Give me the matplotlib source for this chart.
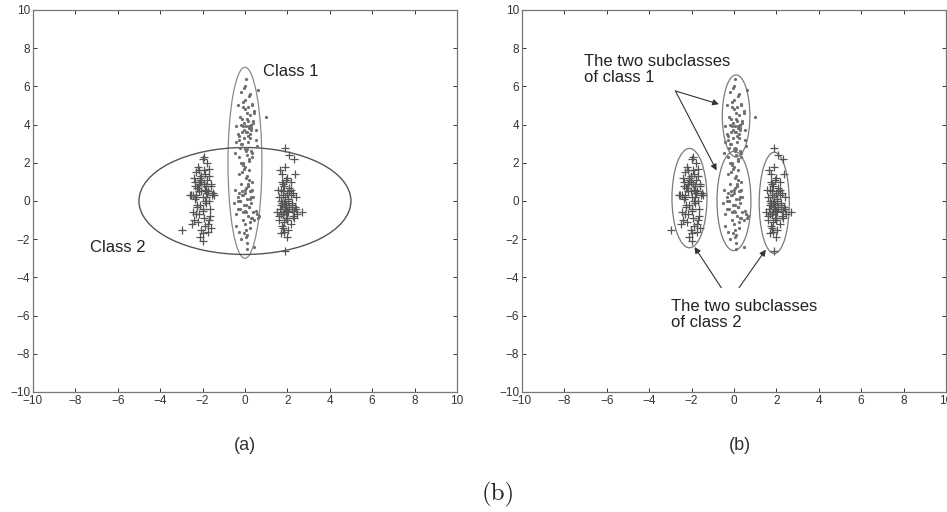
import matplotlib
matplotlib.use("Agg")
import matplotlib.pyplot as plt
from matplotlib.patches import Ellipse

# ---- data ----
ticks = [-10, -8, -6, -4, -2, 0, 2, 4, 6, 8, 10]

c2_left_x = [-2.10,-1.85,-2.30,-1.70,-2.05,-2.25,-1.60,-2.45,-1.95,-2.15,
             -1.80,-2.35,-2.00,-1.75,-2.20,-1.90,-2.55,-1.65,-2.10,-2.40,
             -1.85,-2.05,-1.55,-2.30,-1.95,-2.15,-1.70,-2.25,-2.00,-1.80,
             -2.50,-1.90,-2.10,-1.60,-2.35,-2.00,-1.75,-2.20,-1.45,-2.60,
             -1.95,-2.05,-1.85,-2.30,-2.15,-1.70,-2.00,-2.40,-1.90,-1.65,
             -2.25,-2.10,-1.80,-2.95,-1.50,-2.05,-1.95,-2.20,-1.75,-2.35,
             -2.00,-1.85,-2.15,-1.60,-2.45,-1.90,-2.10,-2.30,-1.70,-2.00]
c2_left_y = [1.10,0.80,0.30,1.30,0.50,-0.20,0.90,0.30,1.60,-0.70,
             0.40,1.00,2.20,-1.20,0.70,0.00,0.30,-0.40,1.20,-1.00,
             0.60,-1.50,0.30,1.50,-0.90,0.90,1.70,-0.30,0.20,2.00,
             -1.20,1.40,-1.90,0.80,0.10,-0.50,-1.60,1.80,0.30,0.30,
             0.90,1.00,-0.10,-0.70,0.50,0.00,-2.10,1.20,-1.30,-0.80,
             0.70,-0.20,1.10,-1.50,0.40,1.30,2.30,-1.10,0.50,0.80,
             -0.40,0.20,1.60,-1.40,-0.60,0.60,1.00,0.20,-1.00,-1.70]

c2_right_x = [1.90,2.10,1.70,2.20,1.80,2.00,1.60,2.30,1.95,1.75,
              2.15,1.85,2.40,1.65,2.05,1.90,2.25,1.70,1.50,2.10,
              1.80,2.00,2.35,1.60,1.95,2.20,1.75,1.85,2.05,2.70,
              1.55,2.15,1.90,2.30,1.70,2.00,1.80,2.45,1.65,2.10,
              1.95,1.85,2.25,1.75,2.00,1.60,2.20,1.90,2.05,1.80,
              2.35,1.70,2.15,1.95,1.85,2.00,1.75,2.10,1.90,2.30,
              1.80,2.40,1.70,2.05,1.95,1.85,2.15,1.75,2.00,1.90]
c2_right_y = [-0.30,0.50,-0.70,-0.10,0.90,-0.50,0.20,-0.90,-0.20,1.40,
              0.60,-1.10,0.20,-0.40,-0.60,1.80,-0.80,0.00,-0.60,2.40,
              -1.40,0.40,1.40,-1.00,-0.30,-0.20,1.00,-1.60,0.10,-0.60,
              0.60,-1.20,2.80,-0.50,-0.20,-1.90,0.30,-0.70,1.60,0.70,
              -0.90,-0.10,0.40,-1.30,1.20,-0.80,-0.40,-2.60,0.00,0.50,
              -0.30,-1.70,1.00,-0.50,0.80,-1.00,-0.10,-0.30,0.20,2.20,
              -0.70,-0.40,0.60,-1.50,1.10,-0.60,0.30,-0.20,-0.90,-0.10]

c1_upper_x = [0.05,-0.20,0.25,-0.10,0.35,0.00,-0.35,0.15,0.45,-0.25,
              0.10,-0.05,0.30,-0.40,0.20,0.50,-0.15,0.05,0.25,-0.30,
              0.40,-0.05,0.15,-0.20,0.55,0.00,0.30,-0.45,0.10,0.20,
              -0.10,0.35,0.05,-0.30,0.25,0.45,-0.20,0.10,-0.05,0.30,
              0.15,-0.35,0.20,0.00,0.40,-0.15,0.25,0.05,-0.25,0.35,
              0.10,-0.10,0.50,-0.05,0.20,0.30,-0.40,0.15,0.00,0.25,
              -0.15,0.35,0.05,-0.30,0.20,1.00,0.10,-0.10,0.30,0.60]
c1_upper_y = [6.40,5.70,5.60,5.20,5.00,4.80,5.00,4.90,4.60,4.40,
              4.30,4.10,4.00,3.90,3.80,3.70,3.60,3.90,3.50,3.40,
              4.20,3.30,3.10,3.00,2.90,2.70,2.60,2.50,2.40,2.20,
              2.00,2.30,2.80,3.20,4.50,4.70,4.00,3.60,3.70,3.80,
              4.20,3.50,3.90,5.30,4.10,3.00,3.30,2.60,2.80,2.50,
              4.60,4.90,3.20,5.90,5.50,4.00,3.10,3.40,6.00,3.80,
              4.30,5.10,3.60,2.30,2.10,4.40,2.70,3.90,3.70,5.80]

c1_lower_x = [-0.10,0.20,-0.30,0.05,0.35,-0.20,0.15,-0.45,0.25,0.00,
              -0.15,0.40,0.10,-0.35,0.30,-0.05,0.20,-0.25,0.50,0.05,
              -0.40,0.15,0.35,-0.10,0.00,0.25,-0.30,0.10,-0.20,0.45,
              0.05,-0.15,0.30,-0.50,0.20,0.00,-0.25,0.40,0.10,-0.05,
              0.25,-0.35,0.15,0.55,-0.10,0.05,0.30,-0.20,0.10,0.65,
              -0.30,0.20,0.00,-0.15,0.35,0.05,-0.40,0.25,-0.05,0.15,
              0.45,-0.25,0.10,0.30,-0.10,0.00,0.20,-0.35,0.60,0.05]
c1_lower_y = [1.90,1.60,1.40,1.20,1.00,0.90,0.80,0.60,0.50,0.40,
              0.30,0.20,0.10,0.00,-0.10,-0.20,-0.30,-0.40,-0.50,-0.60,
              -0.70,-0.80,-0.90,-1.00,-1.20,-1.40,-1.60,-1.80,-2.00,-2.40,
              0.70,0.50,0.20,-0.10,-0.30,0.60,0.00,-0.60,1.30,1.70,
              -1.10,-0.40,0.90,-0.70,0.30,-1.50,-0.90,2.00,-2.20,-0.80,
              0.40,1.10,-0.50,1.50,0.60,-0.20,-1.30,0.10,-1.70,0.80,
              -1.00,0.00,-2.50,0.50,-0.60,1.80,-0.30,0.20,-0.90,-1.90]

# ---- figure ----
plt.rcParams['font.family'] = ['Liberation Sans', 'DejaVu Sans']
fig = plt.figure(figsize=(9.47, 5.12), dpi=100)

axes_rects = [[0.0348, 0.2344, 0.4477, 0.7461],
              [0.5512, 0.2344, 0.4477, 0.7461]]

pt_col = '#555555'
line_col = '#555555'


def setup(ax):
    ax.set_xlim(-10, 10)
    ax.set_ylim(-10, 10)
    ax.set_xticks(ticks)
    ax.set_yticks(ticks)
    ax.tick_params(direction='in', length=3, width=0.7, top=True, right=True,
                   labelsize=8.5, colors='#333333', pad=2)
    for s in ax.spines.values():
        s.set_color('#777777')
        s.set_linewidth(0.9)


def scatter(ax):
    ax.plot(c2_left_x, c2_left_y, '+', color=pt_col, ms=6, mew=0.9)
    ax.plot(c2_right_x, c2_right_y, '+', color=pt_col, ms=6, mew=0.9)
    ax.plot(c1_upper_x, c1_upper_y, '.', color='#707070', ms=2.6)
    ax.plot(c1_lower_x, c1_lower_y, '.', color='#707070', ms=2.6)


txt_kw = dict(fontsize=12, va='center', ha='left', color='#222222')

# panel (a)
axa = fig.add_axes(axes_rects[0])
setup(axa)
scatter(axa)
axa.add_patch(Ellipse((0, 2), 1.6, 10, fill=False, ec='#8a8a8a', lw=0.9))
axa.add_patch(Ellipse((0, 0), 10.0, 5.6, fill=False, ec=line_col, lw=1.0))
axa.text(0.87, 6.76, 'Class 1', **txt_kw)
axa.text(-7.32, -2.41, 'Class 2', **txt_kw)

# panel (b)
axb = fig.add_axes(axes_rects[1])
setup(axb)
scatter(axb)
ell_b = [((0.1, 4.45), 1.3, 4.3), ((0.0, 0.0), 1.6, 5.2),
         ((-2.1, 0.15), 1.65, 5.2), ((1.9, -0.1), 1.42, 5.3)]
for c, w, h in ell_b:
    axb.add_patch(Ellipse(c, w, h, fill=False, ec='#7a7a7a', lw=0.9))
axb.text(-7.09, 6.88, 'The two subclasses\nof class 1', linespacing=1.05, **txt_kw)
axb.text(-2.99, -5.93, 'The two subclasses\nof class 2', linespacing=1.05, **txt_kw)
arr = dict(arrowstyle='-|>', color='#333333', lw=0.8, mutation_scale=9,
           shrinkA=0, shrinkB=0)
axb.annotate('', xy=(-0.71, 5.07), xytext=(-2.76, 5.76), arrowprops=arr)
axb.annotate('', xy=(-0.82, 1.6), xytext=(-2.76, 5.76), arrowprops=arr)
axb.annotate('', xy=(-1.86, -2.41), xytext=(-0.6, -4.54), arrowprops=arr)
axb.annotate('', xy=(1.5, -2.55), xytext=(0.24, -4.54), arrowprops=arr)

# captions
fig.text(245 / 947, 1 - 445 / 512, '(a)', fontsize=13, ha='center', va='center', color='#333333')
fig.text(740 / 947, 1 - 445 / 512, '(b)', fontsize=13, ha='center', va='center', color='#333333')
fig.text(498 / 947, 1 - 494 / 512, '(b)', fontsize=18, ha='center', va='center',
         family=['cmr10', 'DejaVu Serif'], color='#222222')

fig.savefig('out.png', dpi=100)
